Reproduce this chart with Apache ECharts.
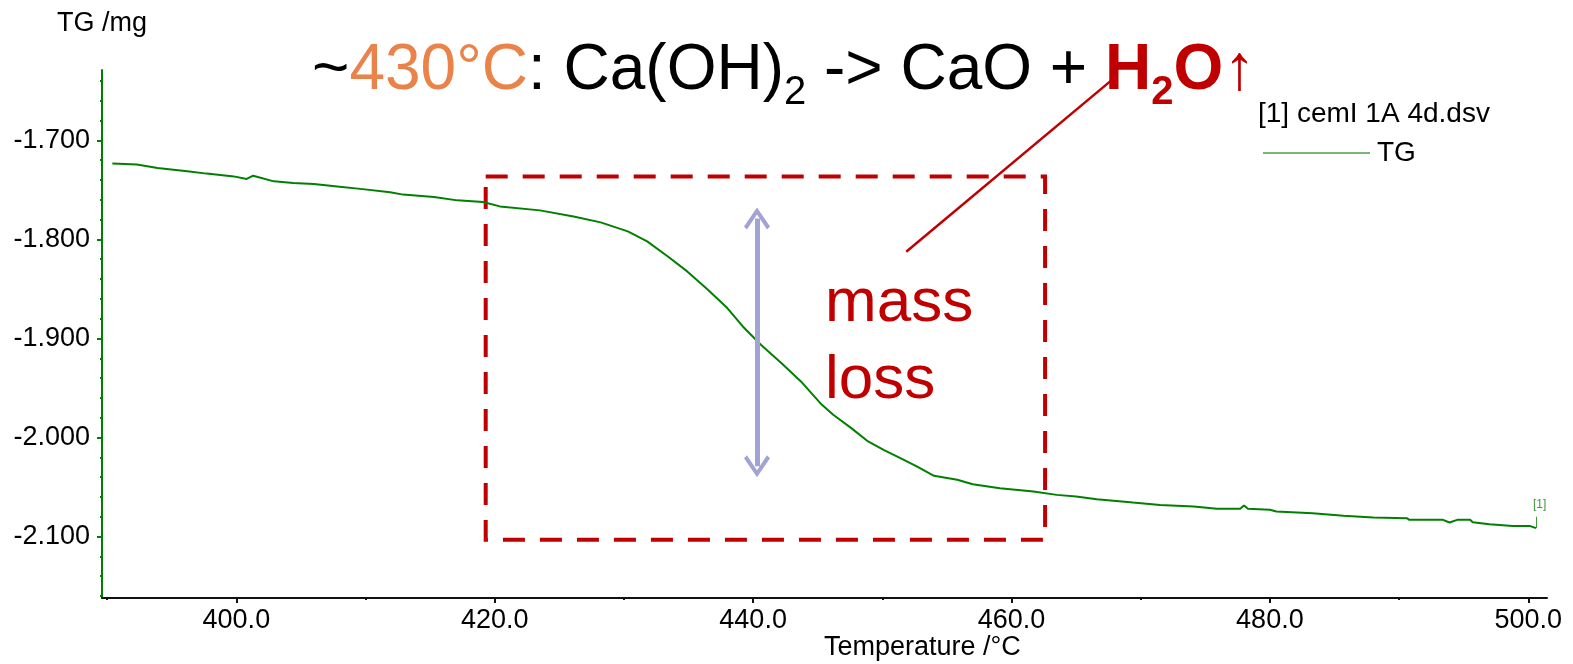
<!DOCTYPE html>
<html>
<head>
<meta charset="utf-8">
<title>TG</title>
<script src="https://cdn.jsdelivr.net/npm/echarts@6/dist/echarts.min.js"></script>
<style>
html, body { margin: 0; padding: 0; background: #fff; }
#graph { width: 1573px; height: 664px; }
</style>
</head>
<body>
<div id="graph"></div>
<script>
"use strict"

// TG curve (temperature /°C, mass /mg)
const temps = [390.4, 392.3, 393.9, 396.2, 397.7, 399.8, 400.8, 401.3, 402.9, 404.4,
    406.0, 407.8, 409.6, 411.9, 412.9, 415.3, 417.1, 419.1, 420.4, 423.5,
    426.1, 428.2, 430.3, 431.8, 433.4, 434.9, 436.5, 438.0, 439.2, 440.6,
    442.2, 443.7, 445.2, 446.2, 447.6, 448.9, 450.1, 451.4, 452.7, 454.0,
    455.8, 457.0, 459.1, 461.7, 463.5, 465.0, 466.6, 469.4, 471.5, 474.1,
    475.9, 477.7, 478.0, 478.3, 480.0, 480.5, 483.3, 485.7, 488.0, 490.6,
    490.8, 493.4, 493.9, 494.5, 495.5, 495.7, 497.0, 498.8, 500.1, 500.6];
const tgMg = [-1.7235, -1.7245, -1.7279, -1.7313, -1.7336, -1.7364, -1.7390, -1.7357, -1.7414, -1.7430,
    -1.7440, -1.7465, -1.7490, -1.7525, -1.7548, -1.7572, -1.7606, -1.7622, -1.7667, -1.7707,
    -1.7768, -1.7828, -1.7919, -1.8020, -1.8172, -1.8323, -1.8508, -1.8693, -1.8879, -1.9064,
    -1.9250, -1.9434, -1.9653, -1.9770, -1.9905, -2.0040, -2.0124, -2.0208, -2.0293, -2.0387,
    -2.0427, -2.0471, -2.0511, -2.0545, -2.0579, -2.0596, -2.0622, -2.0657, -2.0680, -2.0697,
    -2.0720, -2.0720, -2.0687, -2.0720, -2.0730, -2.0747, -2.0764, -2.0790, -2.0808, -2.0814,
    -2.0831, -2.0831, -2.0858, -2.0831, -2.0831, -2.0855, -2.0875, -2.0892, -2.0892, -2.0915];

const xRange = [389.6, 501.45];
const yRange = [-2.162, -1.629];
const xTicks = [400, 420, 440, 460, 480, 500];
const xMinor = [390, 410, 430, 450, 470, 490];
const yTicks = [-2.1, -2.0, -1.9, -1.8, -1.7];
const yMinor = [-2.16, -2.14, -2.12, -2.08, -2.06, -2.04, -2.02, -1.98, -1.96, -1.94, -1.92,
    -1.88, -1.86, -1.84, -1.82, -1.78, -1.76, -1.74, -1.72, -1.68, -1.66, -1.64];

// annotations, in data units
const lossBox = [[419.3, -1.7364], [462.6, -2.1033]];
const lossArrow = [[440.3, -1.779], [440.3, -2.029]];
const pointer = [[451.85, -1.8124], [467.8, -1.6387]];
const endFlag = [[500.6, -2.0915], [500.6, -2.080]];

const FONT = "'Liberation Sans', Arial, sans-serif";
const RED = "#c00000";
const chevron = "path://M13,0 L26,19 L23,22 L13,7 L3,22 L0,19 Z";

const myChart = echarts.init(document.getElementById("graph"), null, { renderer: "canvas" });

const plain = { fontSize: 64, lineHeight: 70, padding: [0, 0, 10, 0], verticalAlign: "bottom", color: "#000", fontWeight: "normal", fontFamily: FONT };
const sub = { fontSize: 40, lineHeight: 44, verticalAlign: "bottom", color: "#000", fontWeight: "normal", fontFamily: FONT };

const option = {
    animation: false,
    title: {
        left: 312, top: 43, padding: 0,
        text: "{t|~}{o|430°C}{t|: Ca(OH)}{s|2}{t| -> CaO + }{b|H}{bs|2}{b|O}{a|↑}",
        textStyle: {
            fontWeight: "normal",
            rich: {
                t: plain,
                o: Object.assign({}, plain, { color: "#e9834a" }),
                s: sub,
                b: Object.assign({}, plain, { color: RED, fontWeight: "bold" }),
                bs: Object.assign({}, sub, { color: RED, fontWeight: "bold" }),
                a: Object.assign({}, plain, { color: RED })
            }
        }
    },
    legend: {
        data: ["TG"],
        left: 1258, top: 134,
        icon: "rect",
        itemWidth: 107, itemHeight: 1.5, itemGap: 0,
        itemStyle: { color: "#4c9f4c" },
        textStyle: { fontSize: 28, color: "#000", fontFamily: FONT, padding: [0, 0, 0, 2] }
    },
    grid: { left: 102, right: 26, top: 70, bottom: 66, outerBoundsMode: "none" },
    xAxis: [{
        type: "value", min: xRange[0], max: xRange[1],
        axisLine: { onZero: false, lineStyle: { color: "#111", width: 2 } },
        axisTick: { customValues: xTicks, length: 5, lineStyle: { color: "#111", width: 2 } },
        axisLabel: {
            customValues: xTicks, margin: 9, fontSize: 27, color: "#000", fontFamily: FONT,
            formatter: v => v.toFixed(1)
        },
        splitLine: { show: false }
    }, {
        type: "value", min: xRange[0], max: xRange[1], position: "bottom",
        axisLine: { show: false },
        axisTick: { customValues: xMinor, length: 2, lineStyle: { color: "#111", width: 2 } },
        axisLabel: { show: false },
        splitLine: { show: false }
    }],
    yAxis: [{
        type: "value", min: yRange[0], max: yRange[1],
        axisLine: { show: true, onZero: false, lineStyle: { color: "#008000", width: 2 } },
        axisTick: { show: true, customValues: yTicks, length: 5, lineStyle: { color: "#008000", width: 2 } },
        axisLabel: {
            customValues: yTicks, margin: 12, fontSize: 27, color: "#000", fontFamily: FONT,
            formatter: v => v.toFixed(3)
        },
        splitLine: { show: false }
    }, {
        type: "value", min: yRange[0], max: yRange[1], position: "left",
        axisLine: { show: false },
        axisTick: { show: true, customValues: yMinor, length: 2, lineStyle: { color: "#008000", width: 2 } },
        axisLabel: { show: false },
        splitLine: { show: false }
    }],
    graphic: [{
        type: "text", left: 57, top: 10,
        style: { text: "TG /mg", fontSize: 27, fill: "#000", fontFamily: FONT }
    }, {
        type: "text", left: 1258, top: 100,
        style: { text: "[1] cemI 1A 4d.dsv", fontSize: 28, fill: "#000", fontFamily: FONT }
    }, {
        type: "text", left: 825, top: 265,
        style: { text: "mass\nloss", fontSize: 62, lineHeight: 77, fill: RED, fontFamily: FONT }
    }, {
        type: "text", left: 824, top: 634,
        style: { text: "Temperature /°C", fontSize: 27, fill: "#000", fontFamily: FONT }
    }],
    series: [{
        name: "TG", type: "line",
        data: temps.map((t, i) => [t, tgMg[i]]),
        symbol: "none",
        lineStyle: { color: "#008000", width: 2 },
        itemStyle: { color: "#008000" },
        endLabel: { show: true, formatter: "[1]", color: "#3d9a3d", fontSize: 12, fontFamily: FONT, offset: [-11, -23] },
        markLine: {
            silent: true, symbol: "none", label: { show: false },
            lineStyle: { color: "#3d9a3d", width: 1, type: "solid" },
            data: [[{ coord: endFlag[0] }, { coord: endFlag[1] }]]
        },
        markArea: {
            silent: true,
            itemStyle: { color: "rgba(0,0,0,0)", borderColor: RED, borderWidth: 4, borderType: [22, 15] },
            data: [[{ coord: lossBox[0] }, { coord: lossBox[1] }]]
        },
        z: 3
    }, {
        name: "arrow", type: "line", data: [],
        markLine: {
            silent: true, symbol: [chevron, chevron], symbolSize: [26, 22], label: { show: false },
            lineStyle: { color: "#a2a2d4", width: 5, type: "solid" },
            itemStyle: { color: "#a2a2d4" },
            data: [[{ coord: lossArrow[0] }, { coord: lossArrow[1] }]]
        },
        z: 4
    }, {
        name: "pointer", type: "line", data: [],
        markLine: {
            silent: true, symbol: "none", label: { show: false },
            lineStyle: { color: RED, width: 2.5, type: "solid" },
            data: [[{ coord: pointer[0] }, { coord: pointer[1] }]]
        },
        z: 4
    }]
};

myChart.setOption(option);
</script>
</body>
</html>
